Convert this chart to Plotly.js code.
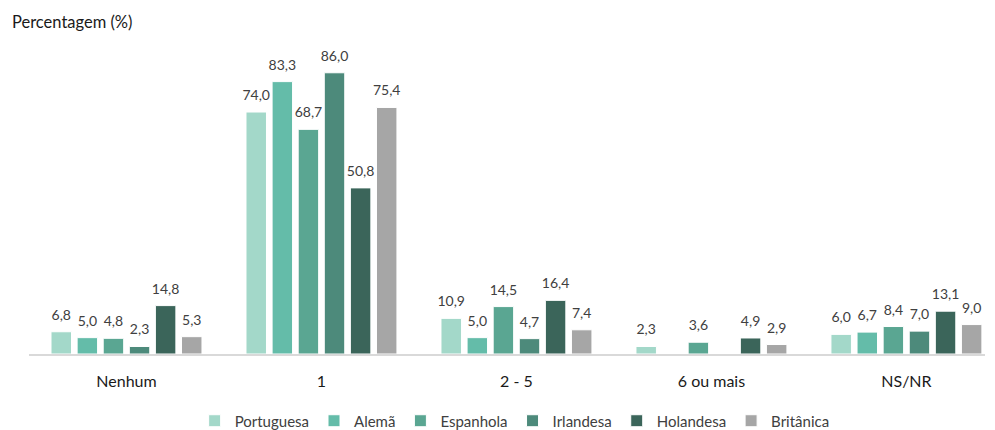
<!DOCTYPE html>
<html><head><meta charset="utf-8">
<script src="https://cdn.plot.ly/plotly-3.0.1.min.js"></script>
<style>html,body{margin:0;padding:0;background:#fff}#c{width:995px;height:430px}</style>
</head><body><div id="c"></div>
<script>
const categories = ["Nenhum", "1", "2 - 5", "6 ou mais", "NS/NR"];
const seriesNames = ["Portuguesa", "Alemã", "Espanhola", "Irlandesa", "Holandesa", "Britânica"];
const portuguesa = [6.8, 74.0, 10.9, 2.3, 6.0];
const alema = [5.0, 83.3, 5.0, null, 6.7];
const espanhola = [4.8, 68.7, 14.5, 3.6, 8.4];
const irlandesa = [2.3, 86.0, 4.7, null, 7.0];
const holandesa = [14.8, 50.8, 16.4, 4.9, 13.1];
const britanica = [5.3, 75.4, 7.4, 2.9, 9.0];
const values = [portuguesa, alema, espanhola, irlandesa, holandesa, britanica];
const colors = ["#A3D8C9", "#64BCA9", "#5AA692", "#4D8A7B", "#3B655A", "#A6A6A6"];

const FONT = "Lato, 'Open Sans', sans-serif";
const GAP = 0.197;
const bars = seriesNames.map((n, i) => ({
  type: "bar", name: n, x: categories, y: values[i],
  marker: {color: colors[i], line: {color: "#ffffff", width: 1}},
  hoverinfo: "skip"
}));
const labels = seriesNames.map((n, i) => ({
  type: "scatter", mode: "markers+text", name: n + " rótulo", showlegend: false,
  x: categories, y: values[i],
  marker: {size: 12, opacity: 0, color: colors[i]},
  texttemplate: "%{y:.1f}", textposition: "top center", cliponaxis: false,
  textfont: {family: FONT, size: 14, color: "#404040"},
  hoverinfo: "skip"
}));

const layout = {
  width: 995, height: 430,
  margin: {l: 29, r: 10, t: 27, b: 76, autoexpand: false},
  paper_bgcolor: "#fff", plot_bgcolor: "#fff",
  separators: ", ",
  barmode: "group", bargap: GAP, bargroupgap: 0.215,
  scattermode: "group", scattergap: GAP,
  font: {family: FONT, color: "#404040"},
  xaxis: {
    range: [-0.5, 4.403],
    showline: true, linecolor: "#D9D9D9", linewidth: 1.5,
    ticks: "", ticklabelstandoff: 12,
    tickfont: {family: FONT, size: 16, color: "#1a1a1a"},
    showgrid: false, fixedrange: true
  },
  yaxis: {range: [0, 100], visible: false, showgrid: false, zeroline: false},
  showlegend: true,
  legend: {
    orientation: "h", x: 0.508, xanchor: "center",
    yref: "container", y: 0.021, yanchor: "middle",
    font: {family: FONT, size: 15, color: "#404040"},
    itemwidth: 30, traceorder: "normal"
  },
  annotations: [{
    text: "Percentagem (%)", xref: "paper", yref: "paper",
    x: -0.02, y: 1.015, xanchor: "left", yanchor: "middle", showarrow: false,
    font: {family: FONT, size: 16.5, color: "#1a1a1a"}
  }]
};
Plotly.newPlot("c", bars.concat(labels), layout, {displayModeBar: false, staticPlot: true});
</script></body></html>
